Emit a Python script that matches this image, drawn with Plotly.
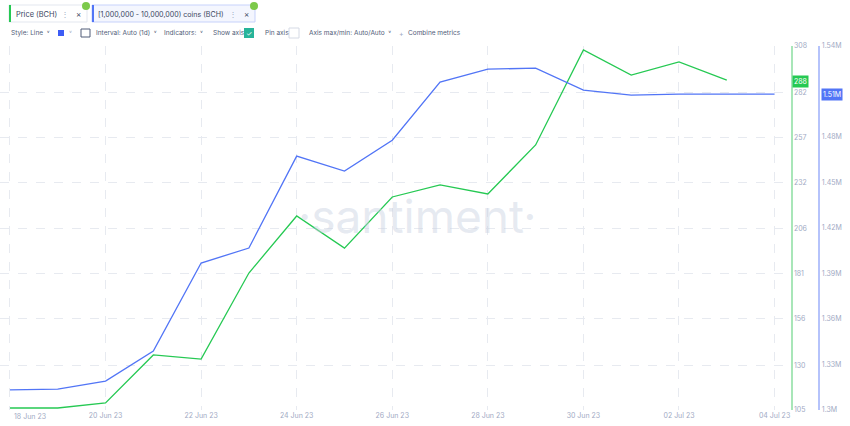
import plotly.graph_objects as go

dates = ['2023-06-18', '2023-06-19', '2023-06-20', '2023-06-21', '2023-06-22', '2023-06-23',
         '2023-06-24', '2023-06-25', '2023-06-26', '2023-06-27', '2023-06-28', '2023-06-29',
         '2023-06-30', '2023-07-01', '2023-07-02', '2023-07-03', '2023-07-04']
price = [106.1, 106.1, 108.9, 135.7, 133.4, 181.4, 213.2, 195.3, 223.8, 230.5, 225.5, 252.8,
         305.8, 291.8, 299.1, 289.0]
coins = [1.3132, 1.3138, 1.3191, 1.3389, 1.3969, 1.4068, 1.4674, 1.4575, 1.4779, 1.5162, 1.5247,
         1.5254, 1.5109, 1.5076, 1.5083, 1.5083, 1.5083]
price_ticks = [105, 130, 156, 181, 206, 232, 257, 282, 308]
coin_ticks = [1.30, 1.33, 1.36, 1.39, 1.42, 1.45, 1.48, 1.51, 1.54]
coin_labels = ['1.3M', '1.33M', '1.36M', '1.39M', '1.42M', '1.45M', '1.48M', '', '1.54M']
x_ticks = ['2023-06-18', '2023-06-20', '2023-06-22', '2023-06-24', '2023-06-26', '2023-06-28',
           '2023-06-30', '2023-07-02', '2023-07-04']
x_labels = ['', '20 Jun 23', '22 Jun 23', '24 Jun 23', '26 Jun 23', '28 Jun 23',
            '30 Jun 23', '02 Jul 23', '04 Jul 23']

GREEN = '#26c953'
BLUE = '#5275f6'
GRID = '#e7eaf0'
TICK = '#9faac4'
FONT = 'Inter, Roboto, sans-serif'
W, H = 850, 426


def px(x):
    return x / W


def py(y):
    return 1 - y / H


fig = go.Figure()
fig.add_trace(go.Scatter(x=dates[:len(price)], y=price, mode='lines', line=dict(color=GREEN, width=1.3),
                         yaxis='y'))
fig.add_trace(go.Scatter(x=dates, y=coins, mode='lines', line=dict(color=BLUE, width=1.3),
                         yaxis='y2'))

fig.update_layout(
    width=W, height=H, margin=dict(l=0, r=0, t=0, b=0, autoexpand=False),
    paper_bgcolor='white', plot_bgcolor='white', showlegend=False,
    font=dict(family=FONT, size=7, color=TICK),
    xaxis=dict(domain=[0, 0.93], range=['2023-06-17 19:00', '2023-07-04 08:00'], automargin=False,
               tickvals=x_ticks, ticktext=x_labels, showgrid=True, gridcolor=GRID,
               griddash='dash', zeroline=False, showline=False, ticks=''),
    yaxis=dict(side='right', range=[105, 308], tickvals=price_ticks, showgrid=True, automargin=False,
               gridcolor=GRID, griddash='dash', zeroline=False, showline=True,
               linecolor='#a8e6b8', linewidth=2, domain=[0.0376, 0.892], anchor='x'),
    yaxis2=dict(side='right', overlaying='y', anchor='free', position=0.964, automargin=False,
                range=[1.30, 1.54], tickvals=coin_ticks, ticktext=coin_labels,
                showgrid=False, zeroline=False, showline=True, linecolor='#b5c3fb', linewidth=2),
)


def label(x, y, text, size=6.5, color='#505c78', anchor='left'):
    fig.add_annotation(x=px(x), y=py(y), xref='paper', yref='paper', text=text, showarrow=False,
                       xanchor=anchor, yanchor='middle', font=dict(size=size, color=color, family=FONT))


label(12, 416, '18 Jun 23', 7, TICK)

# last value badges
fig.add_annotation(x=px(792), xref='paper', y=288, yref='y', text='288', showarrow=False,
                   bgcolor=GREEN, font=dict(color='white', size=7), xanchor='left', borderpad=1)
fig.add_annotation(x=px(821), xref='paper', y=1.508, yref='y2', text='1.51M', showarrow=False,
                   bgcolor=BLUE, font=dict(color='white', size=7), xanchor='left', borderpad=1)

# watermark
fig.add_annotation(x=0.49, xref='paper', y=py(216), yref='paper', text='·santiment·', showarrow=False,
                   font=dict(size=46, color='rgba(200,208,225,0.45)', family=FONT))

# header tabs
fig.add_shape(type='rect', xref='paper', yref='paper', x0=px(9), x1=px(87), y0=py(22), y1=py(5),
              line=dict(color='#e3e7ef', width=1), fillcolor='white')
fig.add_shape(type='line', xref='paper', yref='paper', x0=px(10), x1=px(10), y0=py(22), y1=py(5),
              line=dict(color=GREEN, width=2))
fig.add_shape(type='rect', xref='paper', yref='paper', x0=px(92), x1=px(255), y0=py(22), y1=py(5),
              line=dict(color='#c7d2fb', width=1), fillcolor='#f4f6fe')
fig.add_shape(type='line', xref='paper', yref='paper', x0=px(93), x1=px(93), y0=py(22), y1=py(5),
              line=dict(color=BLUE, width=2))
for xc in (86, 254):
    fig.add_shape(type='circle', xref='paper', yref='paper', x0=px(xc - 4), x1=px(xc + 4),
                  y0=py(10), y1=py(2), line=dict(width=0), fillcolor='#7cc94a')

label(14, 14, 'Price (BCH)', 7.4, '#3b4660')
label(65, 14, '⋮', 8, TICK, 'center')
label(78, 14, '×', 8, '#3b4660', 'center')
label(96, 14, '[1,000,000 - 10,000,000) coins (BCH)', 7.1, '#3b4660')
label(233, 14, '⋮', 8, TICK, 'center')
label(246, 14, '×', 8, '#3b4660', 'center')

label(9, 33, 'Style: Line  ˅')
fig.add_shape(type='rect', xref='paper', yref='paper', x0=px(58), x1=px(64), y0=py(36), y1=py(30),
              line=dict(width=0), fillcolor='#3d5cf5')
label(70, 33, '˅', 6.5, TICK, 'center')
fig.add_shape(type='rect', xref='paper', yref='paper', x0=px(81), x1=px(90), y0=py(37), y1=py(29),
              line=dict(color='#505c78', width=1), fillcolor='white')
label(94, 33, 'Interval: Auto (1d)  ˅')
label(162, 33, 'Indicators:  ˅')
label(211, 33, 'Show axis')
fig.add_shape(type='rect', xref='paper', yref='paper', x0=px(244), x1=px(254), y0=py(38), y1=py(28),
              line=dict(width=0), fillcolor='#27b49a')
label(249, 33, '✓', 7, 'white', 'center')
label(263, 33, 'Pin axis')
fig.add_shape(type='rect', xref='paper', yref='paper', x0=px(289), x1=px(299), y0=py(38), y1=py(28),
              line=dict(color='#d5dae5', width=1), fillcolor='white')
label(307, 33, 'Axis max/min: Auto/Auto  ˅')
label(397, 33, '+', 7, TICK)
label(406, 33, 'Combine metrics')

fig.write_html('out.html', config={'displayModeBar': False},
               post_script="document.body.style.margin='0';")
